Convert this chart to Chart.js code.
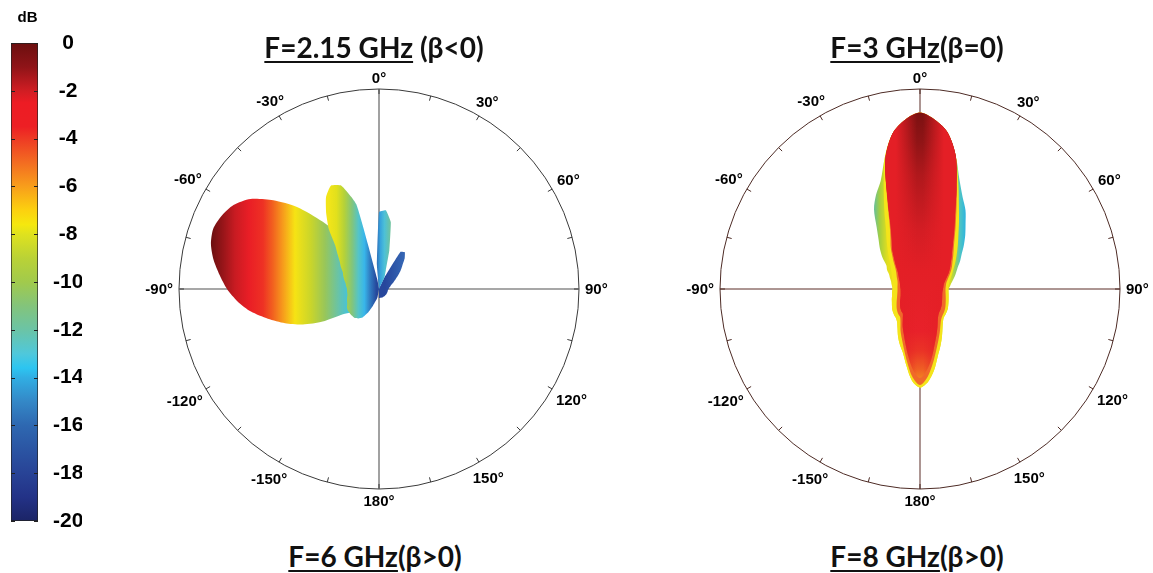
<!DOCTYPE html>
<html>
<head>
<meta charset="utf-8">
<script src="https://cdn.jsdelivr.net/npm/chart.js@4.4.1/dist/chart.umd.min.js"></script>
<style>
html, body { margin: 0; padding: 0; background: #fff; }
body { width: 1153px; height: 573px; position: relative; overflow: hidden; }
canvas { position: absolute; }
.ttl {
  position: absolute; transform: translateX(-50%); white-space: nowrap;
  font-family: Lato, "Open Sans", sans-serif; font-weight: 700;
  font-size: 28px; line-height: 28px; color: #111;
}
.ttl u { text-decoration-thickness: 2px; text-underline-offset: 3px; }
</style>
</head>
<body>
<canvas id="cbar" width="100" height="545" style="left:0;top:0"></canvas>
<canvas id="p215" width="480" height="480" style="left:139px;top:49px"></canvas>
<canvas id="p3" width="480" height="480" style="left:680px;top:49px"></canvas>
<div class="ttl" style="left:374px;top:33px"><u>F=2.15 GHz</u> (β&lt;0)</div>
<div class="ttl" style="left:917px;top:33px"><u>F=3 GHz</u>(β=0)</div>
<div class="ttl" style="left:375px;top:542px"><u>F=6 GHz</u>(β&gt;0)</div>
<div class="ttl" style="left:917px;top:542px"><u>F=8 GHz</u>(β&gt;0)</div>
<script>
// angular categories, clockwise from the top (0°)
const angles = [0,5,10,15,20,25,30,35,40,45,50,55,60,65,70,75,80,85,90,95,100,105,110,115,120,125,130,135,140,145,150,155,160,165,170,175,
  180,185,190,195,200,205,210,215,220,225,230,235,240,245,250,255,260,265,270,275,280,285,290,295,300,305,310,315,320,325,330,335,340,345,350,355];
const angleTickDeg = [0, 30, 60, 90, 120, 150, 180, -150, -120, -90, -60, -30];
const angleTickText = ['0°', '30°', '60°', '90°', '120°', '150°', '180°', '-150°', '-120°', '-90°', '-60°', '-30°'];

// colour bar
const cbUnit = 'dB';
const cbTickValues = [0, -2, -4, -6, -8, -10, -12, -14, -16, -18, -20];
const cbRange = [-20, 0];
const cmapDb = [0, -1, -2, -2.5, -3.5, -4, -5, -6, -7, -7.6, -8, -9, -10, -11, -12, -13, -13.6, -14, -15, -16, -17, -18, -19, -20];
const cmapColors = ['#6b0f0f', '#8f1418', '#d01d23', '#ed1c24', '#ed1f24', '#ee3a24', '#f36c21', '#f89e1b', '#fcd10f', '#f5e80e',
  '#dfe21e', '#bad236', '#a1ca4c', '#83c47b', '#6bc4a6', '#4fc8db', '#2cc5f1', '#31aee3', '#3488c7', '#2e68b1', '#2b55a3',
  '#284396', '#233287', '#1b2466'];

// F = 2.15 GHz, normalised radius of each lobe, 5° steps starting at the given angle
const f215_mainFrom = -140;
const f215_main = [0.10, 0.14, 0.18, 0.22, 0.325, 0.42, 0.50, 0.575, 0.65, 0.71, 0.76, 0.80, 0.84, 0.87, 0.882, 0.868,
  0.84, 0.785, 0.69, 0.58, 0.44, 0.30, 0.15, 0.05];
const f215_secondFrom = -170;
const f215_second = [0.04, 0.06, 0.09, 0.13, 0.165, 0.18, 0.19, 0.19, 0.19, 0.19, 0.185, 0.175, 0.17, 0.165, 0.16, 0.16,
  0.16, 0.165, 0.17, 0.18, 0.19, 0.20, 0.22, 0.24, 0.27, 0.31, 0.39, 0.46, 0.53, 0.57, 0.55, 0.44, 0.05];
const f215_thirdFrom = -5;
const f215_third = [0.12, 0.385, 0.395, 0.34, 0.20, 0.10, 0.065];
const f215_fourthFrom = 25;
const f215_fourth = [0.06, 0.215, 0.225, 0.2, 0.165, 0.14, 0.115, 0.095, 0.08, 0.068, 0.06, 0.055, 0.05, 0.048,
  0.045, 0.045, 0.045, 0.045, 0.045, 0.045, 0.045, 0.045, 0.045, 0.045, 0.045, 0.045, 0.045, 0.045, 0.045, 0.045, 0.045, 0.045];

// F = 3 GHz, full circle in the order of `angles`
const f3_outer = [0.8825, 0.85, 0.795, 0.69, 0.578, 0.505, 0.455, 0.397, 0.352, 0.31, 0.272, 0.245, 0.218, 0.2, 0.185, 0.17,
  0.158, 0.15, 0.1425, 0.143, 0.145, 0.148, 0.152, 0.157, 0.163, 0.17, 0.175, 0.18, 0.185, 0.2, 0.225, 0.26, 0.30, 0.345,
  0.41, 0.465, 0.4925,
  0.46, 0.39, 0.33, 0.295, 0.26, 0.225, 0.2, 0.188, 0.183, 0.177, 0.17, 0.162, 0.155, 0.15, 0.145, 0.142, 0.14, 0.1375,
  0.14, 0.145, 0.15, 0.16, 0.17, 0.19, 0.205, 0.245, 0.283, 0.322, 0.378, 0.46, 0.52, 0.575, 0.68, 0.79, 0.85];
const f3_mid = [0.8825, 0.85, 0.795, 0.69, 0.56, 0.46, 0.39, 0.335, 0.295, 0.262, 0.235, 0.212, 0.192, 0.177, 0.164, 0.154,
  0.147, 0.143, 0.1425, 0.143, 0.145, 0.148, 0.152, 0.157, 0.163, 0.17, 0.175, 0.18, 0.185, 0.2, 0.225, 0.26, 0.30, 0.345,
  0.41, 0.465, 0.4925,
  0.46, 0.39, 0.33, 0.295, 0.26, 0.225, 0.2, 0.188, 0.183, 0.177, 0.17, 0.162, 0.155, 0.15, 0.145, 0.142, 0.14, 0.1375,
  0.138, 0.14, 0.143, 0.148, 0.155, 0.165, 0.177, 0.195, 0.22, 0.25, 0.29, 0.34, 0.42, 0.53, 0.68, 0.79, 0.85];
const f3_core = [0.8825, 0.85, 0.795, 0.69, 0.54, 0.43, 0.355, 0.30, 0.262, 0.235, 0.212, 0.195, 0.178, 0.162, 0.148, 0.138,
  0.132, 0.129, 0.1275, 0.128, 0.13, 0.133, 0.137, 0.142, 0.148, 0.155, 0.162, 0.168, 0.174, 0.185, 0.205, 0.235, 0.27, 0.315,
  0.375, 0.44, 0.48,
  0.44, 0.37, 0.31, 0.265, 0.23, 0.195, 0.173, 0.167, 0.16, 0.152, 0.143, 0.135, 0.128, 0.122, 0.118, 0.115, 0.113, 0.1125,
  0.113, 0.114, 0.116, 0.12, 0.127, 0.135, 0.145, 0.16, 0.185, 0.215, 0.255, 0.295, 0.36, 0.48, 0.67, 0.79, 0.85];
const f3_inner = [0.8825, 0.85, 0.795, 0.69, 0.532, 0.415, 0.342, 0.288, 0.25, 0.223, 0.2, 0.183, 0.166, 0.15, 0.136, 0.126,
  0.12, 0.117, 0.115, 0.113, 0.113, 0.115, 0.118, 0.122, 0.127, 0.133, 0.139, 0.145, 0.15, 0.16, 0.178, 0.207, 0.242, 0.285,
  0.345, 0.405, 0.445,
  0.405, 0.34, 0.282, 0.238, 0.205, 0.172, 0.15, 0.145, 0.138, 0.13, 0.122, 0.115, 0.108, 0.103, 0.1, 0.098, 0.097, 0.097,
  0.099, 0.101, 0.104, 0.108, 0.115, 0.123, 0.133, 0.148, 0.172, 0.202, 0.242, 0.282, 0.347, 0.472, 0.67, 0.79, 0.85];

function lobeSeries(fromDeg, values) {
  const out = angles.map(() => 0);
  values.forEach((v, k) => {
    const deg = (((fromDeg + 5 * k) % 360) + 360) % 360;
    out[angles.indexOf(deg)] = v;
  });
  return out;
}

// gradients in units of the polar radius, measured from the centre
function hGrad(chart, stops) {
  const s = chart.scales.r;
  if (!s || !isFinite(s.xCenter) || !s.drawingArea) return stops[0][1];
  const R = s.drawingArea;
  const g = chart.ctx.createLinearGradient(s.xCenter - R, 0, s.xCenter + R, 0);
  stops.forEach(([f, c]) => g.addColorStop((f + 1) / 2, c));
  return g;
}
function vGrad(chart, stops) {
  const s = chart.scales.r;
  if (!s || !isFinite(s.yCenter) || !s.drawingArea) return stops[0][1];
  const R = s.drawingArea;
  const g = chart.ctx.createLinearGradient(0, s.yCenter - R, 0, s.yCenter + R);
  stops.forEach(([f, c]) => g.addColorStop((f + 1) / 2, c));
  return g;
}

const polarDecor = {
  id: 'polarDecor',
  afterDraw(chart, args, opts) {
    const s = chart.scales.r, ctx = chart.ctx, R = s.drawingArea;
    ctx.save();
    ctx.strokeStyle = opts.lineColor;
    ctx.lineWidth = 1;
    for (let i = 0; i < angles.length; i += 3) {
      const p1 = s.getPointPosition(i, R), p2 = s.getPointPosition(i, R - 5);
      ctx.beginPath(); ctx.moveTo(p1.x, p1.y); ctx.lineTo(p2.x, p2.y); ctx.stroke();
    }
    ctx.font = 'bold 15px "Liberation Sans", Arial, sans-serif';
    ctx.textAlign = 'center';
    ctx.textBaseline = 'middle';
    ctx.fillStyle = '#000';
    angleTickDeg.forEach((deg, k) => {
      const idx = angles.indexOf(((deg % 360) + 360) % 360);
      const txt = angleTickText[k];
      const w = ctx.measureText(txt).width;
      const a = deg * Math.PI / 180;
      const d = R + 6 + Math.abs(Math.sin(a)) * w / 2 + Math.abs(Math.cos(a)) * 5.5;
      const p = s.getPointPosition(idx, d);
      ctx.fillText(txt, p.x, p.y + 1);
    });
    ctx.restore();
  }
};

function polarChart(id, datasets, lineColor, axisColor, axisWidth) {
  return new Chart(document.getElementById(id), {
    type: 'radar',
    data: { labels: angles, datasets: datasets },
    options: {
      responsive: false,
      animation: false,
      layout: { padding: 40 },
      plugins: { legend: { display: false }, tooltip: { enabled: false }, polarDecor: { lineColor: lineColor } },
      elements: { point: { radius: 0, hoverRadius: 0 }, line: { borderWidth: 0 } },
      scales: {
        r: {
          min: 0, max: 1,
          ticks: { display: false, stepSize: 1 },
          pointLabels: { display: false },
          grid: { circular: true, color: lineColor, lineWidth: 1 },
          angleLines: {
            color: c => (c.index % 18 === 0 ? axisColor : 'rgba(0,0,0,0)'),
            lineWidth: axisWidth
          }
        }
      }
    },
    plugins: [polarDecor]
  });
}

const mainStops = [[-0.84, '#6b0f10'], [-0.78, '#971519'], [-0.72, '#c81b22'], [-0.65, '#e91e26'], [-0.58, '#ee3124'],
  [-0.53, '#f2621f'], [-0.48, '#f79c1c'], [-0.42, '#f6e314'], [-0.34, '#c9d52b'], [-0.27, '#98c65a'], [-0.2, '#66c3ab'],
  [-0.14, '#3cc2e8'], [-0.08, '#378ecf'], [0, '#2a4c9f'], [1, '#2a4c9f']];
const secondStops = [[-1, '#f3e519'], [-0.253, '#f3e519'], [-0.213, '#e2e01c'], [-0.173, '#b4d13a'], [-0.133, '#80c57f'],
  [-0.103, '#54c4c8'], [-0.073, '#38b6ea'], [-0.048, '#3182c6'], [-0.013, '#26489c'], [1, '#26489c']];
const thirdStops = [[-1, '#2d6ab5'], [-0.013, '#2d6ab5'], [0.007, '#38a4dc'], [0.027, '#4cc0d8'], [0.057, '#6fc3a0'], [1, '#6fc3a0']];
const fourthStops = [[-1, '#27479c'], [0.03, '#27479c'], [0.12, '#3565b3'], [1, '#3565b3']];

polarChart('p215', [
  { data: lobeSeries(f215_thirdFrom, f215_third), fill: true, tension: 0.1, order: 0, backgroundColor: c => hGrad(c.chart, thirdStops) },
  { data: lobeSeries(f215_fourthFrom, f215_fourth), fill: true, tension: 0.1, order: 1, backgroundColor: c => hGrad(c.chart, fourthStops) },
  { data: lobeSeries(f215_secondFrom, f215_second), fill: true, tension: 0.15, order: 2, backgroundColor: c => hGrad(c.chart, secondStops) },
  { data: lobeSeries(f215_mainFrom, f215_main), fill: true, tension: 0.25, order: 3, backgroundColor: c => hGrad(c.chart, mainStops) }
], '#3a3a3a', '#8a8a8a', 1.6);

const outerStops = [[-1, '#66bf9a'], [-0.23, '#66bf9a'], [-0.2, '#a6cf3e'], [-0.16, '#e6df1c'], [0, '#f3e21a'],
  [0.15, '#d8dc22'], [0.18, '#8fcd66'], [0.2, '#4fc4c4'], [0.23, '#2bb3e0'], [1, '#2bb3e0']];
const innerStops = [[-1, '#7c1111'], [-0.8825, '#7c1111'], [-0.74, '#8f1416'], [-0.57, '#b0181c'], [-0.29, '#d41d24'],
  [-0.09, '#e31f26'], [0.21, '#e8212a'], [0.31, '#ea3326'], [0.4, '#ef5e24'], [0.46, '#f38a20'], [0.5, '#f6b21b'], [1, '#f6b21b']];
const innerEdgeStops = [[-1, 'rgba(228,31,38,1)'], [-0.12, 'rgba(228,31,38,1)'], [-0.07, 'rgba(228,31,38,0.55)'],
  [-0.015, 'rgba(228,31,38,0)'], [0.015, 'rgba(228,31,38,0)'], [0.07, 'rgba(228,31,38,0.55)'], [0.12, 'rgba(228,31,38,1)'],
  [1, 'rgba(228,31,38,1)']];

polarChart('p3', [
  { data: f3_inner, fill: true, tension: 0.3, order: 0, backgroundColor: c => hGrad(c.chart, innerEdgeStops) },
  { data: f3_inner, fill: true, tension: 0.3, order: 1, backgroundColor: c => vGrad(c.chart, innerStops) },
  { data: f3_core, fill: true, tension: 0.3, order: 2, backgroundColor: '#f0692a' },
  { data: f3_mid, fill: true, tension: 0.3, order: 3, backgroundColor: '#f4e41a' },
  { data: f3_outer, fill: true, tension: 0.3, order: 4, backgroundColor: c => hGrad(c.chart, outerStops) }
], '#4d2b25', '#5a2d26', 1);

// colour bar
function cbGradient(chart) {
  const y = chart.scales.y;
  if (!chart.chartArea || !y) return cmapColors[0];
  const top = y.getPixelForValue(cbRange[1]), bot = y.getPixelForValue(cbRange[0]);
  const g = chart.ctx.createLinearGradient(0, top, 0, bot);
  const span = cbRange[1] - cbRange[0];
  cmapDb.forEach((d, i) => g.addColorStop((cbRange[1] - d) / span, cmapColors[i]));
  return g;
}

const cbDecor = {
  id: 'cbDecor',
  afterDatasetsDraw(chart) {
    const ctx = chart.ctx, a = chart.chartArea, y = chart.scales.y;
    ctx.save();
    ctx.strokeStyle = '#222';
    ctx.lineWidth = 1;
    cbTickValues.forEach(v => {
      const py = Math.round(y.getPixelForValue(v)) + 0.5;
      ctx.beginPath();
      ctx.moveTo(a.left, py); ctx.lineTo(a.left + 4, py);
      ctx.moveTo(a.right - 4, py); ctx.lineTo(a.right, py);
      ctx.stroke();
    });
    ctx.fillStyle = '#000';
    ctx.font = 'bold 15px "Liberation Sans", Arial, sans-serif';
    ctx.textAlign = 'center';
    ctx.textBaseline = 'middle';
    ctx.fillText(cbUnit, (a.left + a.right) / 2 + 3, a.top - 25);
    ctx.restore();
  }
};

new Chart(document.getElementById('cbar'), {
  type: 'bar',
  data: {
    labels: [cbUnit],
    datasets: [{
      data: [cbRange],
      backgroundColor: c => cbGradient(c.chart),
      borderColor: '#222', borderWidth: 1, borderSkipped: false,
      barPercentage: 1, categoryPercentage: 1
    }]
  },
  options: {
    responsive: false,
    animation: false,
    layout: { padding: { left: 11, right: 18, top: 43, bottom: 24 } },
    plugins: { legend: { display: false }, tooltip: { enabled: false } },
    scales: {
      x: { display: false },
      y: {
        position: 'right', min: cbRange[0], max: cbRange[1],
        afterBuildTicks: ax => { ax.ticks = cbTickValues.map(v => ({ value: v })); },
        afterFit: ax => { ax.width = 44; },
        grid: { display: false },
        border: { display: false },
        ticks: {
          color: '#000', padding: 7, crossAlign: 'center',
          font: { family: '"Liberation Sans", Arial, sans-serif', size: 21, weight: 'bold' },
          callback: v => String(v)
        }
      }
    }
  },
  plugins: [cbDecor]
});
</script>
</body>
</html>
